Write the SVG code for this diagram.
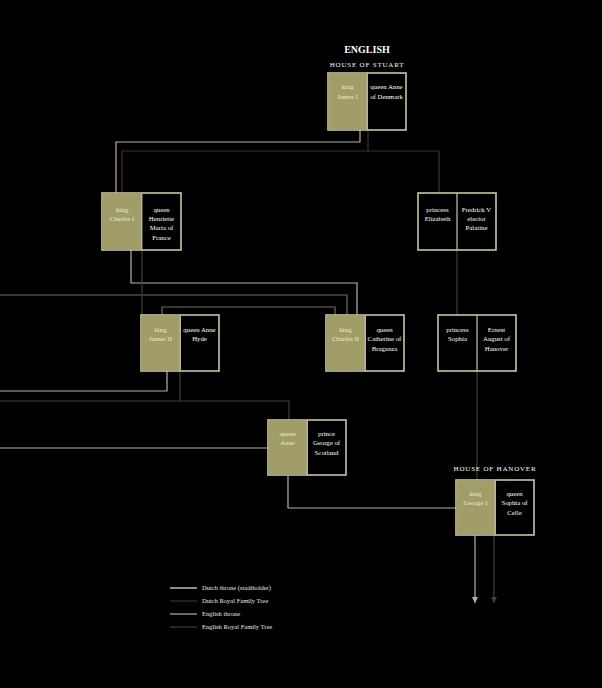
<svg xmlns="http://www.w3.org/2000/svg" width="602" height="688" viewBox="0 0 602 688">
<defs>
<style>
.bg{fill:#000}
.frame{fill:#000;stroke:#c9c6a2;stroke-width:1.6}
.ol{fill:#a19d68}
.div{stroke:#c9c6a2;stroke-width:1.2}
text{font-family:"Liberation Serif","DejaVu Serif",serif;font-size:6.8px;text-anchor:middle}
.tl{fill:#ecead0}
.tr{fill:#ffffff}
.hd{fill:#fff;font-size:10px;font-weight:bold}
.sub{fill:#fff;font-size:7px;letter-spacing:0.8px}
.lg{fill:#e8e8e8;font-size:6.5px;text-anchor:start}
.et{fill:none;stroke:#b5b39c;stroke-width:1.2}
.ef{fill:none;stroke:#3e3e3a;stroke-width:1.2}
.dt{fill:none;stroke:#e8e8e8;stroke-width:1.2}
.df{fill:none;stroke:#4a2a28;stroke-width:1.2}
.mg{fill:none;stroke:#6e6d62;stroke-width:1.2}
</style>
<marker id="ah" viewBox="0 0 6 6" refX="6" refY="3" markerWidth="6" markerHeight="6" orient="auto" markerUnits="userSpaceOnUse">
<path d="M0,0 L6,3 L0,6 Z" fill="#b5b39c"/>
</marker>
<marker id="ah2" viewBox="0 0 6 6" refX="6" refY="3" markerWidth="6" markerHeight="6" orient="auto" markerUnits="userSpaceOnUse">
<path d="M0,0 L6,3 L0,6 Z" fill="#3e3e3a"/>
</marker>
</defs>
<rect class="bg" x="0" y="0" width="602" height="688"/>

<g id="connectors">
<polyline class="et" points="360,130 360,142 116,142 116,193"/>
<polyline class="df" points="368,130 368,151 122,151 122,193"/>
<polyline class="df" points="368,151 439,151 439,193"/>
<polyline class="et" points="131,250 131,283 357,283 357,315"/>
<polyline class="mg" points="0,295 347,295 347,315"/>
<polyline class="ef" points="142,250 142,315"/>
<polyline class="mg" points="162,315 162,307 335,307 335,315"/>
<polyline class="et" points="167,371 167,391 0,391"/>
<polyline class="ef" points="180,371 180,401 0,401"/>
<polyline class="ef" points="180,401 289,401 289,420"/>
<polyline class="et" points="0,448 268,448"/>
<polyline class="et" points="288,475 288,508 456,508"/>
<polyline class="ef" points="457,250 457,315"/>
<polyline class="ef" points="477,371 477,480"/>
<line class="et" x1="475" y1="535" x2="475" y2="603" marker-end="url(#ah)"/>
<line class="ef" x1="494" y1="535" x2="494" y2="603" marker-end="url(#ah2)"/>
</g>

<g id="header">
<text class="hd" x="367" y="53">ENGLISH</text>
<text class="sub" x="367" y="67">HOUSE OF STUART</text>
<text class="sub" x="495" y="471">HOUSE OF HANOVER</text>
</g>

<g id="james1">
<rect class="frame" x="328" y="73" width="78" height="57"/>
<rect class="ol" x="328.8" y="73.8" width="38.5" height="55.4"/>
<line class="div" x1="367.3" y1="73" x2="367.3" y2="130"/>
<text class="tl" x="347.5" y="89">king</text>
<text class="tl" x="347.5" y="99">James I</text>
<text class="tr" x="386.5" y="89">queen Anne</text>
<text class="tr" x="386.5" y="99">of Denmark</text>
</g>

<g id="charles1">
<rect class="frame" x="102" y="193" width="79" height="57"/>
<rect class="ol" x="102.8" y="193.8" width="39" height="55.4"/>
<line class="div" x1="141.8" y1="193" x2="141.8" y2="250"/>
<text class="tl" x="122" y="212">king</text>
<text class="tl" x="122" y="221">Charles I</text>
<text class="tr" x="161.5" y="212">queen</text>
<text class="tr" x="161.5" y="221">Henriette</text>
<text class="tr" x="161.5" y="230">Maria of</text>
<text class="tr" x="161.5" y="240">France</text>
</g>

<g id="elizabeth">
<rect class="frame" x="418" y="193" width="78" height="57"/>
<line class="div" x1="457" y1="193" x2="457" y2="250"/>
<text class="tr" x="437.5" y="212">princess</text>
<text class="tr" x="437.5" y="221">Elizabeth</text>
<text class="tr" x="476.5" y="212">Fredrick V</text>
<text class="tr" x="476.5" y="221">elector</text>
<text class="tr" x="476.5" y="230">Palatine</text>
</g>

<g id="james2">
<rect class="frame" x="141" y="315" width="78" height="56"/>
<rect class="ol" x="141.8" y="315.8" width="38.5" height="54.4"/>
<line class="div" x1="180.3" y1="315" x2="180.3" y2="371"/>
<text class="tl" x="160.5" y="332">king</text>
<text class="tl" x="160.5" y="341">James II</text>
<text class="tr" x="199.5" y="332">queen Anne</text>
<text class="tr" x="199.5" y="341">Hyde</text>
</g>

<g id="charles2">
<rect class="frame" x="326" y="315" width="78" height="56"/>
<rect class="ol" x="326.8" y="315.8" width="38.5" height="54.4"/>
<line class="div" x1="365.3" y1="315" x2="365.3" y2="371"/>
<text class="tl" x="345.5" y="332">king</text>
<text class="tl" x="345.5" y="341">Charles II</text>
<text class="tr" x="384.5" y="332">queen</text>
<text class="tr" x="384.5" y="341">Catherine of</text>
<text class="tr" x="384.5" y="351">Braganza</text>
</g>

<g id="sophia">
<rect class="frame" x="438" y="315" width="78" height="56"/>
<line class="div" x1="477" y1="315" x2="477" y2="371"/>
<text class="tr" x="457.5" y="332">princess</text>
<text class="tr" x="457.5" y="341">Sophia</text>
<text class="tr" x="496.5" y="332">Ernest</text>
<text class="tr" x="496.5" y="341">August of</text>
<text class="tr" x="496.5" y="351">Hanover</text>
</g>

<g id="anne">
<rect class="frame" x="268" y="420" width="78" height="55"/>
<rect class="ol" x="268.8" y="420.8" width="38.5" height="53.4"/>
<line class="div" x1="307.3" y1="420" x2="307.3" y2="475"/>
<text class="tl" x="287.5" y="436">queen</text>
<text class="tl" x="287.5" y="445">Anne</text>
<text class="tr" x="326.5" y="436">prince</text>
<text class="tr" x="326.5" y="445">George of</text>
<text class="tr" x="326.5" y="455">Scotland</text>
</g>

<g id="george1">
<rect class="frame" x="456" y="480" width="78" height="55"/>
<rect class="ol" x="456.8" y="480.8" width="38.5" height="53.4"/>
<line class="div" x1="495.3" y1="480" x2="495.3" y2="535"/>
<text class="tl" x="475.5" y="496">king</text>
<text class="tl" x="475.5" y="505">George I</text>
<text class="tr" x="514.5" y="496">queen</text>
<text class="tr" x="514.5" y="505">Sophia of</text>
<text class="tr" x="514.5" y="515">Celle</text>
</g>

<g id="legend">
<line class="dt" x1="170" y1="588" x2="197" y2="588"/>
<line class="df" x1="170" y1="601" x2="197" y2="601"/>
<line class="et" x1="170" y1="614" x2="197" y2="614"/>
<line class="ef" x1="170" y1="627" x2="197" y2="627"/>
<text class="lg" x="202" y="590">Dutch throne (stadtholder)</text>
<text class="lg" x="202" y="603">Dutch Royal Family Tree</text>
<text class="lg" x="202" y="616">English throne</text>
<text class="lg" x="202" y="629">English Royal Family Tree</text>
</g>
</svg>
